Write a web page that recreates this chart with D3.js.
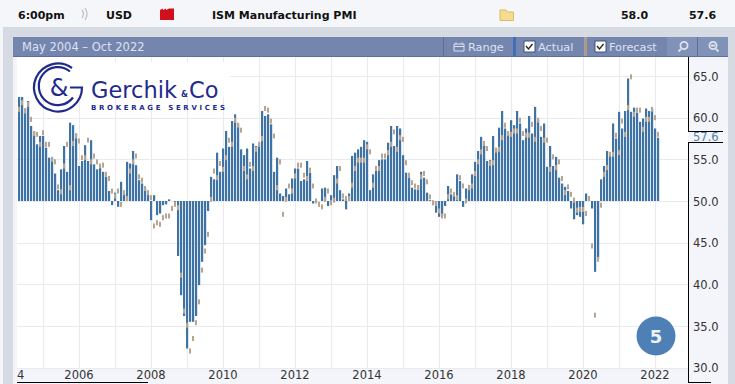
<!DOCTYPE html>
<html><head><meta charset="utf-8">
<script src="https://cdn.jsdelivr.net/npm/d3@7"></script>
<style>html,body{margin:0;padding:0;background:#f5f6fa;overflow:hidden}svg{display:block}text{font-family:"DejaVu Sans",sans-serif}</style>
</head><body><svg id="c" width="735" height="384"></svg>
<script>
const actual=[62.6,62.8,61.1,62.0,59.0,58.4,56.8,57.8,57.8,56.4,55.2,55.2,53.3,51.3,53.8,56.6,53.5,59.4,59.1,58.1,
54.2,54.8,56.7,54.8,57.3,54.4,53.8,54.0,53.5,52.9,51.2,49.5,51.0,49.3,52.3,50.9,54.7,54.5,56.0,54.3,
52.5,52.1,51.6,50.8,47.7,50.7,48.3,48.5,49.5,49.6,50.2,50.0,49.9,43.4,38.7,36.2,32.3,35.5,35.5,36.2,
39.9,42.7,44.7,48.8,52.9,52.6,55.8,53.5,56.3,58.4,56.5,59.6,60.4,59.3,56.2,55.5,56.3,53.9,56.9,56.6,
57.0,60.8,60.2,60.4,59.2,53.5,55.2,50.9,50.6,51.5,50.8,52.7,53.9,53.9,52.4,52.6,54.8,53.4,49.7,49.9,
50.0,51.5,51.6,49.4,50.7,53.1,54.2,51.3,50.2,49.0,50.9,55.4,55.8,56.2,56.5,57.3,57.1,51.3,53.2,53.6,
54.9,55.0,55.0,57.0,59.0,56.6,59.0,58.7,55.5,53.4,52.8,51.6,51.4,51.9,53.5,52.8,51.0,50.1,49.5,48.6,
48.1,48.2,49.4,51.8,50.8,50.6,53.2,52.4,49.3,51.5,51.9,53.2,54.7,56.0,57.7,56.7,54.8,54.9,57.8,56.3,
58.8,60.8,58.7,58.2,59.7,59.1,60.8,59.3,57.3,58.7,60.2,58.1,61.3,59.8,57.7,59.3,54.1,56.6,54.2,55.3,
52.8,52.1,51.7,51.2,49.1,47.8,48.3,48.1,47.2,50.9,50.1,49.1,41.5,43.1,52.6,54.2,56.0,55.4,59.3,57.5,
60.7,58.7,60.8,64.7,60.7,61.2,60.6,59.5,59.9,61.1,60.8,61.1,58.7,57.6];
const forecast=[61.0,61.8,60.8,61.6,59.8,58.1,58.0,56.8,58.2,56.8,56.8,55.0,54.7,51.7,51.1,54.2,56.8,51.6,56.9,57.8,
57.2,55.2,55.2,57.3,54.7,55.4,54.7,54.2,54.3,53.2,52.7,51.2,50.6,51.2,49.6,51.0,50.3,53.6,54.7,55.4,
52.9,52.5,51.5,51.0,50.4,47.0,47.4,47.2,48.0,48.2,48.2,49.1,49.6,49.2,41.1,36.8,35.1,32.0,33.5,35.4,
37.9,41.7,44.0,46.0,50.2,53.6,52.8,54.5,53.8,55.2,57.3,56.8,59.7,59.1,58.5,53.9,52.9,54.4,53.9,56.2,
56.8,57.5,61.1,60.9,59.6,57.8,51.6,54.7,48.4,50.2,51.8,51.2,53.0,54.3,54.3,53.1,52.7,53.7,51.8,50.0,
49.6,49.3,50.2,51.2,49.8,50.1,52.4,53.9,50.6,50.3,50.3,51.9,53.9,54.9,54.9,54.9,56.5,55.9,51.9,53.9,
53.9,55.4,55.4,55.8,56.8,58.3,56.2,57.6,57.4,54.6,53.1,52.2,51.8,51.6,52.9,53.3,52.3,50.5,49.8,49.7,
48.8,48.2,48.2,50.5,51.2,50.8,50.4,52.8,51.8,50.0,51.6,51.8,53.3,54.7,55.9,56.9,56.3,54.5,54.6,56.1,
56.2,57.6,59.1,58.1,58.0,58.4,58.4,59.7,58.1,57.9,57.9,59.2,57.4,59.7,58.7,57.3,57.3,53.8,55.3,54.0,
54.7,52.7,51.0,51.7,50.8,50.1,48.9,49.0,49.0,48.5,50.3,44.6,36.3,43.0,49.5,53.2,54.0,55.6,55.6,57.9,
55.8,59.6,58.0,61.2,64.9,60.4,60.9,60.9,58.6,59.8,59.8,61.0,60.0,58.0];
const yTicks=[65,60,55,50,45,40,35,30];
const gridYears=[2005,2006,2007,2008,2009,2010,2011,2012,2013,2014,2015,2016,2017,2018,2019,2020,2021,2022];
const labelYears=[2006,2008,2010,2012,2014,2016,2018,2020,2022];
const clippedLabel="4";
const title="May 2004 – Oct 2022";
const headerRow=["6:00pm","USD","ISM Manufacturing PMI","58.0","57.6"];
const lastValue="57.6";

const svg=d3.select("#c");
const x=d3.scaleLinear().domain([0,213]).range([19,658]);
const y=d3.scaleLinear().domain([50,65]).range([201,76]);
const yearIndex=yr=>(yr-2004)*12-4;
function rect(a,b,w,h,f){return svg.append("rect").attr("x",a).attr("y",b).attr("width",w).attr("height",h).attr("fill",f);}
function txt(a,b,s,size,fill,weight,anchor){return svg.append("text").attr("x",a).attr("y",b).text(s).attr("font-size",size).attr("fill",fill).attr("font-weight",weight||"normal").attr("text-anchor",anchor||"start");}

// page
rect(0,0,735,384,"#f5f6fa");
rect(3,27,732,357,"#d5dae3");
rect(0,27,3,357,"#f5f6fa");
rect(13,37,715,347,"#f3f5fa");
rect(17,57,671,311,"#ffffff");

// header
txt(18,19,headerRow[0],11,"#111","bold");
txt(106,19,headerRow[1],11,"#111","bold");
txt(212,19,headerRow[2],11,"#111","bold");
txt(634.5,19,headerRow[3],11,"#111","bold","middle");
txt(702.5,19,headerRow[4],11,"#111","bold","middle");
svg.append("path").attr("d","M82 10q3 4 0 8M85 8q4 6 0 12").attr("fill","none").attr("stroke","#bcc1c9").attr("stroke-width",1.3);
svg.append("path").attr("d","M160 20V10l3-1.5V10l3-1.5V10l3-1.5h5V20z").attr("fill","#d0101a");
svg.append("path").attr("d","M500 10h6l1.5 2h6v8.5h-13.5z").attr("fill","#f5dc8e").attr("stroke","#d9bb6a");

// toolbar
rect(13,37,715,20,"#7486ae");
rect(13,56,715,1,"#5d6f98");
const tb="#dde2ee";
txt(22,51,title,11.5,tb);
rect(443,37,1,19,"#5d6f98");
svg.append("path").attr("d","M454 44h10v7h-10zM454 46.5h10M456 42.5v2M462 42.5v2").attr("fill","none").attr("stroke",tb);
txt(468,51,"Range",11.3,tb);
rect(513,37,3,19,"#3f6fb5");
rect(524,41,11,11,"#fff").attr("stroke","#44557a");
svg.append("path").attr("d","M526 46l2.5 3 4-5").attr("fill","none").attr("stroke","#222").attr("stroke-width",1.3);
txt(538,51,"Actual",11.3,tb);
rect(584,37,3,19,"#b09a8c");
rect(595,41,11,11,"#fff").attr("stroke","#44557a");
svg.append("path").attr("d","M597 46l2.5 3 4-5").attr("fill","none").attr("stroke","#222").attr("stroke-width",1.3);
txt(609,51,"Forecast",11.3,tb);
rect(667,37,61,19,"#8192b8");
rect(697,37,1,19,"#5d6f98");
svg.append("circle").attr("cx",684).attr("cy",45.5).attr("r",3.6).attr("fill","none").attr("stroke",tb).attr("stroke-width",1.8);
svg.append("path").attr("d","M681 49l-2.5 2.5").attr("stroke",tb).attr("stroke-width",2);
svg.append("circle").attr("cx",713).attr("cy",45.5).attr("r",3.6).attr("fill","none").attr("stroke",tb).attr("stroke-width",1.8);
svg.append("path").attr("d","M716 49l2.5 2.5M711 45.5h4").attr("stroke",tb).attr("stroke-width",1.8);

// grid
const grid=svg.append("g").attr("stroke","#e8eaee").attr("stroke-width",1);
grid.selectAll("line.v").data(gridYears).join("line").attr("x1",d=>Math.round(x(yearIndex(d)))+.5).attr("x2",d=>Math.round(x(yearIndex(d)))+.5).attr("y1",57).attr("y2",368);
grid.selectAll("line.h").data(yTicks).join("line").attr("x1",17).attr("x2",688).attr("y1",d=>Math.round(y(d))+.5).attr("y2",d=>Math.round(y(d))+.5);

// bars
svg.append("g").selectAll("rect").data(actual).join("rect")
 .attr("x",(d,i)=>x(i)-1).attr("width",2.2)
 .attr("y",d=>Math.min(y(d),y(50))).attr("height",d=>Math.abs(y(d)-y(50))).attr("fill","#3f73a3");
svg.append("g").selectAll("rect").data(forecast).join("rect")
 .attr("x",(d,i)=>x(i)-1).attr("width",2)
 .attr("y",d=>y(d)-2.5).attr("height",5).attr("fill","#b9a58f");

// axes text
yTicks.forEach(t=>txt(693,y(t)+4.5,t.toFixed(1),11.5,"#333"));
labelYears.forEach(t=>txt(x(yearIndex(t)),379,t,11.5,"#333","normal","middle"));
txt(17,379,clippedLabel,11.5,"#333");
rect(688,57,1,75,"#000");
rect(688,131,35,1,"#000");
rect(688,142,35,1,"#000");
rect(688,142,1,241,"#000");
rect(17,382,131,1,"#000");
rect(688,382,23,1,"#000");
txt(693,140.5,lastValue,11.5,"#5580a8");

// logo
rect(17,57,63,40,"#fff");
rect(80,62,150,35,"#fff");
const navy="#1f2a8c";
svg.append("path").attr("d","M70 71.5a19 19 0 1 0 3 26").attr("fill","none").attr("stroke",navy).attr("stroke-width",2.2);
svg.append("path").attr("d","M72 68a24 24 0 1 0 10 19.5h-12").attr("fill","none").attr("stroke",navy).attr("stroke-width",2.2);
txt(59,96,"&",24,navy,"500","middle").attr("font-family","Inter");
txt(91,98,"Gerchik",22.5,navy,"500").attr("font-family","Inter");
txt(181,97,"&",8,navy,"600").attr("font-family","Inter");
txt(189,98,"Co",22.5,navy,"500").attr("font-family","Inter");
txt(91,110,"BROKERAGE SERVICES",7,navy,"bold").attr("textLength",134);

// badge
svg.append("circle").attr("cx",656).attr("cy",336).attr("r",19.5).attr("fill","#4f80b5");
txt(656,342.5,"5",18,"#eef3f9","bold","middle");
</script></body></html>
